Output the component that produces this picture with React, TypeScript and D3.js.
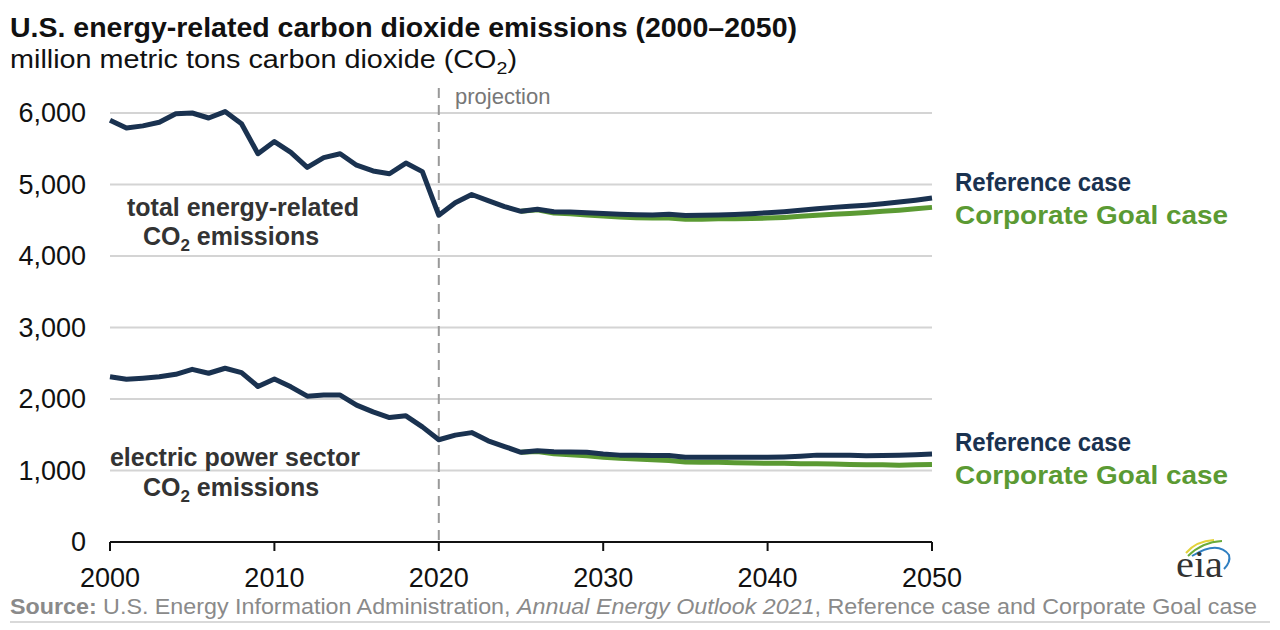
import React from "react";
import * as d3 from "d3";

const years = d3.range(2000, 2051);
const refTotal = [
  5900, 5790, 5820, 5870, 5990, 6000, 5930, 6020, 5850, 5430,
  5600, 5450, 5240, 5375, 5430, 5270, 5190, 5150, 5300, 5180,
  4570, 4745, 4860, 4775, 4690, 4625, 4655, 4620, 4615, 4605,
  4595, 4585, 4578, 4575, 4585, 4565, 4570, 4575, 4580, 4590,
  4605, 4620, 4640, 4660, 4680, 4695, 4710, 4730, 4755, 4780, 4810,
];
const cgYears = d3.range(2025, 2051);
const cgTotal = [
  4625, 4645, 4600, 4590, 4575, 4560, 4545, 4535, 4530, 4530,
  4515, 4515, 4520, 4520, 4525, 4530, 4540, 4555, 4570, 4585,
  4595, 4610, 4625, 4640, 4660, 4680,
];
const refElec = [
  2310, 2275, 2290, 2310, 2345, 2415, 2360, 2430, 2370, 2175,
  2280, 2170, 2040, 2055, 2055, 1915, 1820, 1740, 1765, 1610,
  1430, 1495, 1530, 1415, 1335, 1255, 1275, 1262, 1258, 1255,
  1230, 1215, 1215, 1210, 1210, 1185, 1185, 1185, 1185, 1185,
  1185, 1190, 1200, 1215, 1215, 1215, 1205, 1210, 1215, 1222, 1230,
];
const cgElec = [
  1255, 1265, 1235, 1220, 1205, 1185, 1170, 1160, 1150, 1140,
  1120, 1115, 1115, 1110, 1105, 1100, 1100, 1095, 1095, 1090,
  1085, 1080, 1080, 1075, 1080, 1085,
];
const yTicks = [0, 1000, 2000, 3000, 4000, 5000, 6000];
const xTicks = [2000, 2010, 2020, 2030, 2040, 2050];

const NAVY = "#1a3250";
const GREEN = "#5b9a33";
const SANS = "'Liberation Sans', Arial, sans-serif";
const NARROW = "'Liberation Sans Narrow', 'Arial Narrow', 'Liberation Sans', Arial, sans-serif";

export default function App() {
  const x = d3.scaleLinear().domain([2000, 2050]).range([110, 932]);
  const y = d3.scaleLinear().domain([0, 6000]).range([542, 113]);
  const line = d3
    .line<[number, number]>()
    .x((d) => x(d[0]))
    .y((d) => y(d[1]));
  const zip = (ys: number[], vs: number[]) => ys.map((yr, i) => [yr, vs[i]] as [number, number]);

  return (
    <svg
      width={1280}
      height={630}
      style={{ position: "absolute", left: 0, top: 0, background: "#fff" }}
      fontFamily={SANS}
    >
      <rect width={1280} height={630} fill="#fff" />
      {/* title */}
      <text x={10} y={37} fontFamily={NARROW} fontWeight="bold" fontSize={28} fill="#111" textLength={787} lengthAdjust="spacingAndGlyphs">
        U.S. energy-related carbon dioxide emissions (2000–2050)
      </text>
      <text x={10} y={68} fontFamily={NARROW} fontSize={25} fill="#111" textLength={507} lengthAdjust="spacingAndGlyphs">
        million metric tons carbon dioxide (CO<tspan fontSize={17} dy={6}>2</tspan><tspan dy={-6}>)</tspan>
      </text>

      {/* gridlines */}
      {yTicks.filter((t) => t > 0).map((t) => (
        <line key={t} x1={110} x2={932} y1={y(t)} y2={y(t)} stroke="#d4d4d4" strokeWidth={2} />
      ))}
      {/* y labels */}
      {yTicks.map((t) => (
        <text key={t} x={86} y={y(t)} dy="0.35em" textAnchor="end" fontSize={27} fill="#111">
          {d3.format(",")(t)}
        </text>
      ))}
      {/* x axis */}
      <line x1={110} x2={932} y1={542} y2={542} stroke="#111" strokeWidth={2} />
      {xTicks.map((t) => (
        <g key={t}>
          <line x1={x(t)} x2={x(t)} y1={542} y2={551} stroke="#111" strokeWidth={2} />
          <text x={x(t)} y={587} textAnchor="middle" fontSize={27} fill="#111">
            {t}
          </text>
        </g>
      ))}

      {/* projection line */}
      <line x1={x(2020)} x2={x(2020)} y1={88} y2={542} stroke="#999" strokeWidth={2} strokeDasharray="10,7" />
      <text x={455} y={104} fontSize={22} fill="#777">projection</text>

      {/* lines */}
      <path d={line(zip(cgYears, cgTotal)) || ""} fill="none" stroke={GREEN} strokeWidth={5} strokeLinejoin="round" />
      <path d={line(zip(years, refTotal)) || ""} fill="none" stroke={NAVY} strokeWidth={5} strokeLinejoin="round" />
      <path d={line(zip(cgYears, cgElec)) || ""} fill="none" stroke={GREEN} strokeWidth={5} strokeLinejoin="round" />
      <path d={line(zip(years, refElec)) || ""} fill="none" stroke={NAVY} strokeWidth={5} strokeLinejoin="round" />

      {/* annotations */}
      <g fontWeight="bold" fontSize={25} fill="#333" textAnchor="middle">
        <text x={243} y={216}>total energy-related</text>
        <text x={231} y={245}>
          CO<tspan fontSize={17} dy={6}>2</tspan><tspan dy={-6}> emissions</tspan>
        </text>
        <text x={235} y={466}>electric power sector</text>
        <text x={231} y={496}>
          CO<tspan fontSize={17} dy={6}>2</tspan><tspan dy={-6}> emissions</tspan>
        </text>
      </g>

      {/* legends */}
      <g fontWeight="bold" fontSize={26}>
        <text x={955} y={191} fill={NAVY} textLength={176} lengthAdjust="spacingAndGlyphs">Reference case</text>
        <text x={955} y={224} fill={GREEN} textLength={273} lengthAdjust="spacingAndGlyphs">Corporate Goal case</text>
        <text x={955} y={451} fill={NAVY} textLength={176} lengthAdjust="spacingAndGlyphs">Reference case</text>
        <text x={955} y={484} fill={GREEN} textLength={273} lengthAdjust="spacingAndGlyphs">Corporate Goal case</text>
      </g>

      {/* eia logo */}
      <g>
        <path d="M1186,553 Q1196,541 1214,540" fill="none" stroke="#e3d23a" strokeWidth={2} />
        <path d="M1188,556 Q1202,542 1222,541" fill="none" stroke="#6aab3a" strokeWidth={2} />
        <path d="M1192,556 Q1218,540 1229,555 Q1231,562 1224,569" fill="none" stroke="#2f7fc1" strokeWidth={2} />
        <text x={1176} y={577} fontFamily="'Liberation Serif', 'DejaVu Serif', serif" fontSize={38} fill="#333" textLength={47} lengthAdjust="spacingAndGlyphs">
          eia
        </text>
      </g>

      {/* source */}
      <text x={10} y={614} fontFamily={NARROW} fontSize={22} fill="#8a8a8a" textLength={1247} lengthAdjust="spacingAndGlyphs">
        <tspan fontWeight="bold">Source:</tspan> U.S. Energy Information Administration, <tspan fontStyle="italic">Annual Energy Outlook 2021</tspan>, Reference case and Corporate Goal case
      </text>
      <line x1={10} x2={1270} y1={622} y2={622} stroke="#ccc" strokeWidth={1.5} />
    </svg>
  );
}
